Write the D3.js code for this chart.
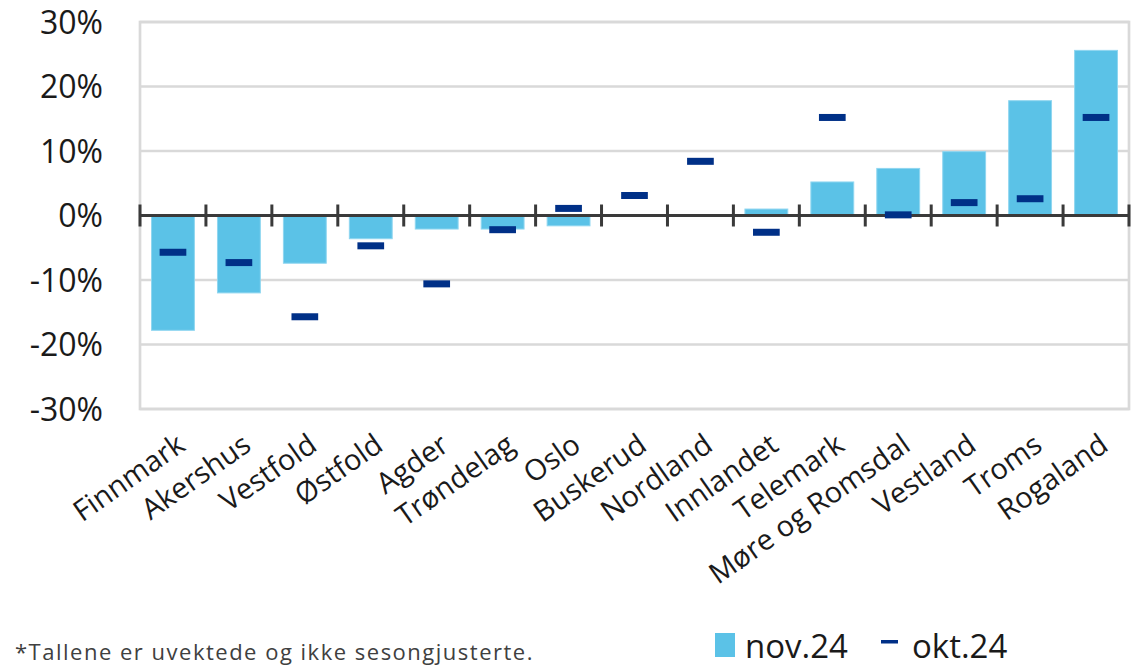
<!DOCTYPE html>
<html>
<head>
<meta charset="utf-8">
<script src="https://cdn.jsdelivr.net/npm/d3@7"></script>
<style>
  html, body { margin: 0; padding: 0; background: #ffffff; }
  svg { display: block; font-family: "Open Sans", "Noto Sans", sans-serif; }
</style>
</head>
<body>
<svg id="chart" width="1138" height="667"></svg>
<script>
const categories = ["Finnmark", "Akershus", "Vestfold", "Østfold", "Agder", "Trøndelag", "Oslo",
  "Buskerud", "Nordland", "Innlandet", "Telemark", "Møre og Romsdal", "Vestland", "Troms", "Rogaland"];
const nov24 = [-17.8, -12.0, -7.4, -3.6, -2.1, -2.1, -1.6, 0, 0, 1.0, 5.2, 7.3, 9.9, 17.8, 25.6];
const okt24 = [-5.7, -7.3, -15.7, -4.7, -10.6, -2.2, 1.1, 3.1, 8.4, -2.6, 15.2, 0.1, 2.0, 2.6, 15.2];
const yTicks = [-30, -20, -10, 0, 10, 20, 30];
const seriesNames = ["nov.24", "okt.24"];
const footnote = "*Tallene er uvektede og ikke sesongjusterte.";

(function () {
const svg = d3.select("#chart");
const pL = 140, pR = 1129, pT = 22, pB = 409;

const x = d3.scaleBand().domain(categories).range([pL, pR]).paddingInner(0.35).paddingOuter(0.175);
const xb = d3.scaleBand().domain(categories).range([pL, pR]).padding(0);
const y = d3.scaleLinear().domain([-30, 30]).range([pB, pT]);

// gridlines
svg.append("g").selectAll("line").data(yTicks.filter(d => d !== 0)).join("line")
  .attr("x1", pL).attr("x2", pR)
  .attr("y1", d => y(d)).attr("y2", d => y(d))
  .attr("stroke", "#d9d9d9").attr("stroke-width", 2.7);

// plot border
svg.append("rect").attr("x", pL).attr("y", pT).attr("width", pR - pL).attr("height", pB - pT)
  .attr("fill", "none").attr("stroke", "#d9d9d9").attr("stroke-width", 2.7);

// y axis labels
const yAxis = d3.axisLeft(y).tickValues(yTicks).tickFormat(d => d + "%").tickSize(0).tickPadding(0);
const gy = svg.append("g").attr("transform", `translate(${pL - 37},0)`).call(yAxis);
gy.select(".domain").remove();
gy.selectAll("text").attr("font-size", 32).attr("fill", "#1a1a1a")
  .attr("font-family", "'Open Sans', 'Noto Sans', sans-serif").attr("dy", "0.35em");

// bars
svg.append("g").selectAll("rect").data(categories).join("rect")
  .attr("x", d => x(d))
  .attr("width", x.bandwidth())
  .attr("y", (d, i) => y(Math.max(0, nov24[i])))
  .attr("height", (d, i) => Math.abs(y(nov24[i]) - y(0)))
  .attr("fill", "#5bc2e7")
  .attr("stroke", (d, i) => nov24[i] === 0 ? "none" : "#8fd6f0").attr("stroke-width", 1);

// zero axis with category boundary ticks
svg.append("line").attr("x1", pL).attr("x2", pR).attr("y1", y(0)).attr("y2", y(0))
  .attr("stroke", "#3a3a3a").attr("stroke-width", 3);
const bounds = categories.map(c => xb(c)).concat([pR]);
svg.append("g").selectAll("line").data(bounds).join("line")
  .attr("x1", d => d).attr("x2", d => d)
  .attr("y1", y(0) - 11).attr("y2", y(0) + 11)
  .attr("stroke", "#3a3a3a").attr("stroke-width", 3);

// okt markers
const mw = 26.7, mh = 7;
svg.append("g").selectAll("rect").data(categories).join("rect")
  .attr("x", d => x(d) + x.bandwidth() / 2 - mw / 2)
  .attr("y", (d, i) => y(okt24[i]) - mh / 2)
  .attr("width", mw).attr("height", mh)
  .attr("fill", "#003087");

// category labels
svg.append("g").selectAll("text").data(categories).join("text")
  .attr("transform", d => `translate(${xb(d) + xb.bandwidth() / 2 + 2},${432}) rotate(-35)`)
  .attr("text-anchor", "end")
  .attr("dy", "0.72em")
  .attr("font-size", 29)
  .attr("fill", "#1a1a1a")
  .text(d => d);

// footnote
svg.append("text").attr("x", 15).attr("y", 660).attr("font-size", 22)
  .attr("letter-spacing", 1.5).attr("fill", "#404040")
  .text(footnote);

// legend
const lg = svg.append("g");
lg.append("rect").attr("x", 715).attr("y", 633).attr("width", 20).attr("height", 24).attr("fill", "#5bc2e7");
lg.append("text").attr("x", 745).attr("y", 658).attr("font-size", 33).attr("fill", "#1a1a1a").text(seriesNames[0]);
lg.append("rect").attr("x", 881).attr("y", 640).attr("width", 17).attr("height", 3.5).attr("fill", "#003087");
lg.append("text").attr("x", 912).attr("y", 658).attr("font-size", 33).attr("fill", "#1a1a1a").text(seriesNames[1]);
})();
</script>
</body>
</html>
